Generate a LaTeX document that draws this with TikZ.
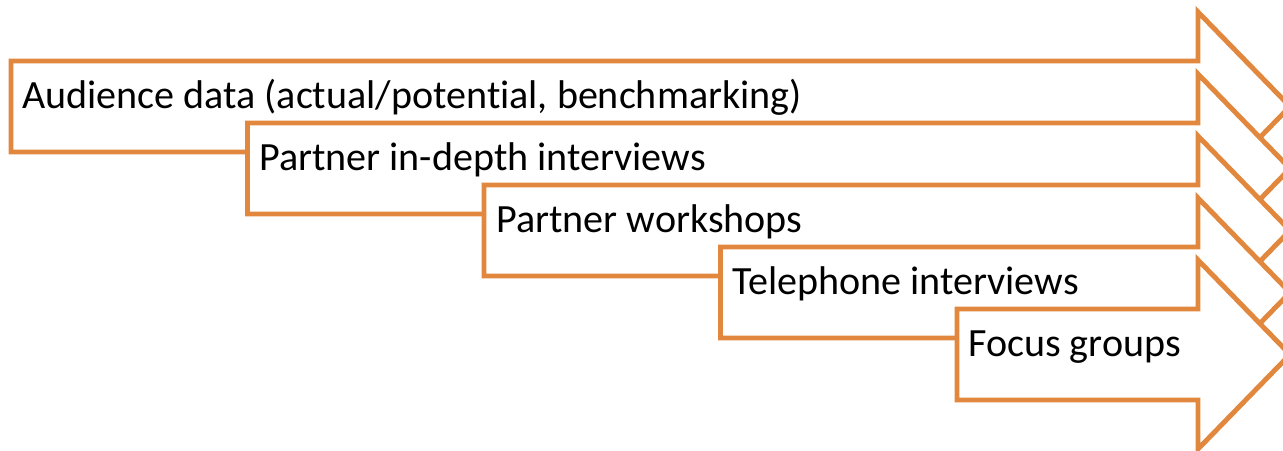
\documentclass[tikz,border=0pt]{standalone}
\usepackage{fontspec}
\setmainfont{Carlito}[Ligatures=NoCommon]
\usepackage{tikz}
\usetikzlibrary{positioning}
\definecolor{stageorange}{RGB}{226, 136, 62}
\tikzset{
  stagearr/.style={draw=stageorange, fill=white, line width=2.8pt, miter limit=10},
  stagelbl/.style={anchor=base west, inner sep=0pt, font=\fontsize{22.8}{27}\selectfont},
}
\begin{document}
\begin{tikzpicture}[x=0.02cm, y=-0.02cm]
  \useasboundingbox (0, 0) rectangle (1283, 450);
  \clip (0, 0) rectangle (1283, 450);
  % audience data
  \draw[stagearr] (11, 61) -- (1198, 61) -- (1198, 12) -- (1290, 106.5)
    -- (1198, 201) -- (1198, 152) -- (11, 152) -- cycle;
  \node[stagelbl] (audience) at (22, 108) {Audience data (actual/potential, benchmarking)};
  % partner interviews
  \draw[stagearr] (247.5, 123) -- (1198, 123) -- (1198, 74) -- (1290, 168.5)
    -- (1198, 263) -- (1198, 214) -- (247.5, 214) -- cycle;
  \node[stagelbl] (interviews) at (259, 170) {Partner in-depth interviews};
  % partner workshops
  \draw[stagearr] (484, 185) -- (1198, 185) -- (1198, 136) -- (1290, 230.5)
    -- (1198, 325) -- (1198, 276) -- (484, 276) -- cycle;
  \node[stagelbl] (workshops) at (496, 232) {Partner workshops};
  % telephone
  \draw[stagearr] (720.5, 247) -- (1198, 247) -- (1198, 198) -- (1290, 292.5)
    -- (1198, 387) -- (1198, 338) -- (720.5, 338) -- cycle;
  \node[stagelbl] (telephone) at (732, 294) {Telephone interviews};
  % focus groups
  \draw[stagearr] (957, 309) -- (1198, 309) -- (1198, 260) -- (1290, 354.5)
    -- (1198, 449) -- (1198, 400) -- (957, 400) -- cycle;
  \node[stagelbl] (focus) at (968, 356) {Focus groups};
\end{tikzpicture}
\end{document}
